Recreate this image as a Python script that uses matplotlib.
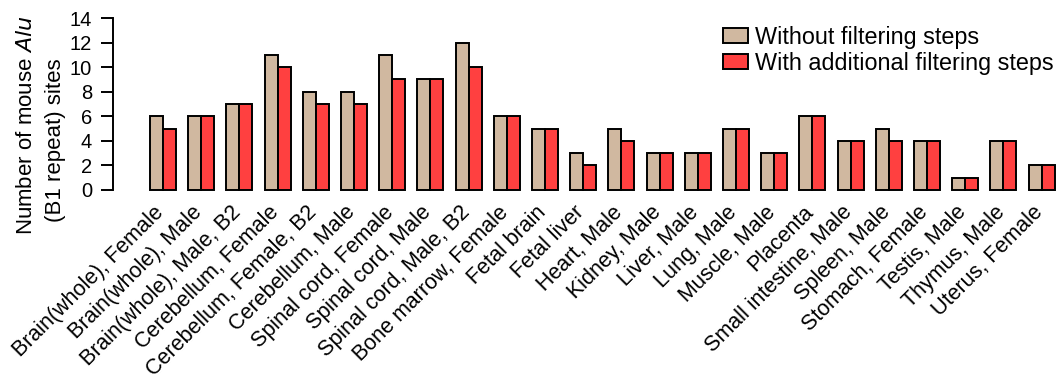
import numpy as np
import matplotlib
matplotlib.use('Agg')
import matplotlib.pyplot as plt
import matplotlib.transforms as mtransforms
from matplotlib.patches import Patch

plt.rcParams['font.family'] = ['Liberation Sans', 'DejaVu Sans']

# tissues / samples
samples = ['Brain(whole), Female', 'Brain(whole), Male', 'Brain(whole), Male, B2',
           'Cerebellum, Female', 'Cerebellum, Female, B2', 'Cerebellum, Male',
           'Spinal cord, Female', 'Spinal cord, Male', 'Spinal cord, Male, B2',
           'Bone marrow, Female', 'Fetal brain', 'Fetal liver', 'Heart, Male',
           'Kidney, Male', 'Liver, Male', 'Lung, Male', 'Muscle, Male', 'Placenta',
           'Small intestine, Male', 'Spleen, Male', 'Stomach, Female',
           'Testis, Male', 'Thymus, Male', 'Uterus, Female']

# number of B1 sites per sample
no_filter = [6, 6, 7, 11, 8, 8, 11, 9, 12, 6, 5, 3, 5, 3, 3, 5, 3, 6, 4, 5, 4, 1, 4, 2]
with_filter = [5, 6, 7, 10, 7, 7, 9, 9, 10, 6, 5, 2, 4, 3, 3, 5, 3, 6, 4, 4, 4, 1, 4, 2]

series_labels = ['Without filtering steps', 'With additional filtering steps']
colors = ['#D0B8A0', '#FF4040']

fig = plt.figure(figsize=(10.58, 3.86), dpi=100)
ax = fig.add_axes([0.1068, 0.508, 0.8932, 0.445])

x = np.arange(len(samples))
w = 0.34
ax.bar(x - w / 2, no_filter, w, color=colors[0], edgecolor='black', linewidth=1.4, clip_on=False)
ax.bar(x + w / 2, with_filter, w, color=colors[1], edgecolor='black', linewidth=1.4, clip_on=False)

ax.set_ylim(0, 14)
ax.set_xlim(-1.31, 23.43)
ax.set_yticks(range(0, 15, 2))
ax.tick_params(axis='y', labelsize=14.5, length=9, width=1.4, pad=6)
ax.set_xticks(x)
ax.set_xticklabels(samples, rotation=45, ha='right', va='center', rotation_mode='anchor', fontsize=15.5)
ax.tick_params(axis='x', length=0, pad=14)
shift = mtransforms.ScaledTranslation(-2 / 100, 0, fig.dpi_scale_trans)
for lab in ax.get_xticklabels():
    lab.set_transform(lab.get_transform() + shift)

for s in ['top', 'right', 'bottom']:
    ax.spines[s].set_visible(False)
ax.spines['left'].set_linewidth(1.4)
ax.spines['left'].set_bounds(0, 14)

fig.text(27 / 1058, 1 - 125 / 386, 'Number of mouse $\\mathit{Alu}$', rotation=90,
         ha='center', va='center', fontsize=16)
fig.text(55 / 1058, 1 - 140 / 386, '(B1 repeat) sites', rotation=90,
         ha='center', va='center', fontsize=16)

handles = [Patch(facecolor=c, edgecolor='black', linewidth=1.4) for c in colors]
fig.legend(handles, series_labels, loc='upper right', bbox_to_anchor=(1054 / 1058, 1 - 26 / 386),
           frameon=False, fontsize=16.8, handlelength=1.07, handleheight=0.6, handletextpad=0.3,
           labelspacing=0.12, borderpad=0, borderaxespad=0)

fig.savefig('out.png', dpi=100)
